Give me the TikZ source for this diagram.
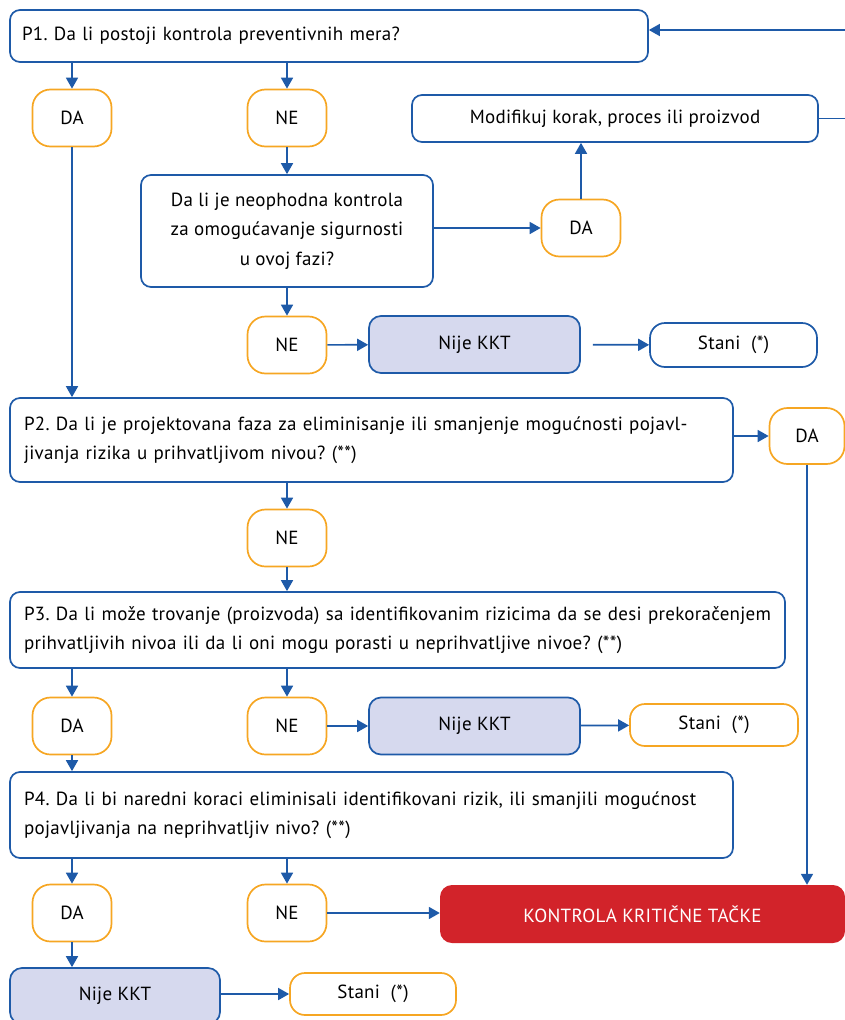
\documentclass[tikz,border=0pt]{standalone}
\usepackage{fontspec}
\setmainfont{PT Sans}[LetterSpace=1.5]
\usetikzlibrary{arrows.meta}
\definecolor{lineblue}{HTML}{1E5AA8}
\definecolor{orng}{HTML}{F6A623}
\definecolor{lav}{HTML}{D6D9EE}
\definecolor{kred}{HTML}{D2232A}
\frenchspacing
\begin{document}
\begin{tikzpicture}[x=1pt,y=-1pt,
 every node/.style={font=\fontsize{19}{29.5}\selectfont\frenchspacing, inner sep=0pt},
 qbox/.style={draw=lineblue, line width=1.7pt, rounded corners=10pt, fill=white},
 yn/.style={draw=orng, line width=1.7pt, rounded corners=18pt, fill=white, minimum width=79pt, minimum height=57pt},
 kkt/.style={draw=lineblue, line width=1.7pt, rounded corners=12pt, fill=lav, minimum width=211pt, minimum height=57pt},
 stanib/.style={draw=lineblue, line width=1.7pt, rounded corners=15pt, fill=white, minimum width=167pt, minimum height=44pt},
 stanio/.style={draw=orng, line width=1.7pt, rounded corners=15pt, fill=white, minimum width=167pt, minimum height=42pt},
 arr/.style={draw=lineblue, line width=1.7pt, -{Triangle[length=11pt,width=12pt]}},
]
\useasboundingbox (0,0) rectangle (845,1020);

\node[qbox, minimum width=638pt, minimum height=52pt, text width=614pt, align=left] (p1) at (329,36) {\mbox{P1. Da li postoji kontrola preventivnih mera?}};
\node[yn] (da1) at (72,118) {DA};
\node[yn] (ne1) at (287,118) {NE};
\node[qbox, minimum width=406pt, minimum height=47pt] (mod) at (615,118.5) {Modifikuj korak, proces ili proizvod};
\node[qbox, minimum width=292pt, minimum height=112pt, align=center] (q) at (287,231) {Da li je neophodna kontrola\\za omogućavanje sigurnosti\\u ovoj fazi?};
\node[yn] (da2) at (581,228) {DA};
\node[yn] (ne2) at (287,345) {NE};
\node[kkt] (k1) at (474.5,344.5) {Nije KKT};
\node[stanib] (s1) at (733.5,345) {Stani\ \ (*)};

\node[qbox, minimum width=723pt, minimum height=84pt, text width=695pt, align=left] (p2) at (371.5,440) {\mbox{P2. Da li je projektovana faza za eliminisanje ili smanjenje mogućnosti pojavl-}\\\mbox{jivanja rizika u prihvatljivom nivou? (**)}};
\node[yn, minimum width=75pt, minimum height=56pt] (da3) at (807,436) {DA};
\node[yn] (ne3) at (287,538) {NE};

\node[qbox, minimum width=775pt, minimum height=76pt, text width=747pt, align=left] (p3) at (397.5,630) {\mbox{P3. Da li može trovanje (proizvoda) sa identifikovanim rizicima da se desi prekoračenjem}\\\mbox{prihvatljivih nivoa ili da li oni mogu porasti u neprihvatljive nivoe? (**)}};
\node[yn] (da4) at (72,726) {DA};
\node[yn] (ne4) at (287,726) {NE};
\node[kkt] (k2) at (474.5,726) {Nije KKT};
\node[stanio, minimum width=168pt] (s2) at (714,725) {Stani\ \ (*)};

\node[qbox, minimum width=723pt, minimum height=86pt, text width=695pt, align=left] (p4) at (371.5,815) {\mbox{P4. Da li bi naredni koraci eliminisali identifikovani rizik, ili smanjili mogućnost}\\\mbox{pojavljivanja na neprihvatljiv nivo? (**)}};
\node[yn] (da5) at (72,913) {DA};
\node[yn] (ne5) at (287,913) {NE};
\node[fill=kred, rounded corners=12pt, minimum width=405pt, minimum height=58pt, text=white] (red) at (642.5,914) {KONTROLA KRITIČNE TAČKE};
\node[kkt, minimum width=210pt, minimum height=56pt] (k3) at (115,996) {Nije KKT};
\node[stanio, minimum width=166pt] (s3) at (373,994) {Stani\ \ (*)};

\coordinate (fb) at (848,30);
\draw[arr] (p1.south -| da1) -- (da1);
\draw[arr] (p1.south -| ne1) -- (ne1);
\draw[arr] (ne1) -- (q);
\draw[arr] (q.east |- da2) -- (da2);
\draw[arr] (da2) -- (mod.south -| da2);
\draw[arr] (q) -- (ne2);
\draw[arr] (ne2) -- (k1);
\draw[arr, shorten <=12pt] (k1) -- (s1);
\draw[arr] (da1) -- (p2.north -| da1);
\draw[arr] (mod.east) -- (mod.east -| fb) -- (fb) -- (fb -| p1.east);
\draw[arr] (p2.east |- da3) -- (da3);
\draw[arr] (da3) -- (red.north -| da3);
\draw[arr] (p2.south -| ne3) -- (ne3);
\draw[arr] (ne3) -- (p3.north -| ne3);
\draw[arr] (p3.south -| da4) -- (da4);
\draw[arr] (p3.south -| ne4) -- (ne4);
\draw[arr] (ne4) -- (k2);
\draw[arr] (k2) -- (s2);
\draw[arr] (da4) -- (p4.north -| da4);
\draw[arr] (p4.south -| da5) -- (da5);
\draw[arr] (p4.south -| ne5) -- (ne5);
\draw[arr] (ne5) -- (red.west |- ne5);
\draw[arr] (da5) -- (k3.north -| da5);
\draw[arr] (k3.east |- s3) -- (s3);
\end{tikzpicture}
\end{document}
